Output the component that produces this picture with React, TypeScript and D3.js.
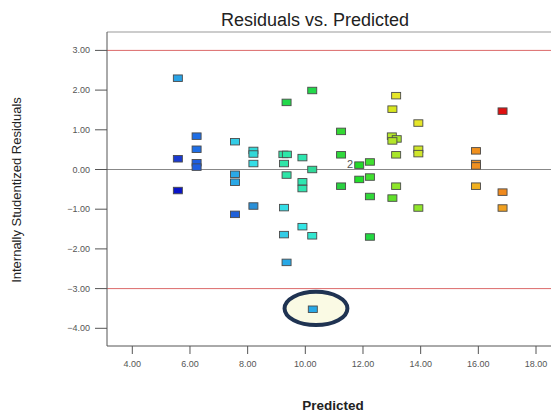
import React from "react";
import * as d3 from "d3";

const predicted = [
  5.58, 9.35, 6.23, 7.56, 6.23, 8.2, 8.2, 5.58, 6.23, 6.23,
  9.24, 9.36, 8.2, 9.26, 7.56, 7.56, 9.35, 5.58, 8.2, 9.26,
  7.56, 9.26, 9.35, 10.24, 13.15, 13.02, 13.92, 11.24, 13.0, 13.17,
  13.02, 13.92, 13.92, 9.9, 11.24, 13.15, 12.24, 11.87, 10.24, 9.9,
  9.9, 12.24, 11.87, 11.24, 13.15, 12.24, 13.02, 13.92, 9.9, 10.24,
  12.24, 15.92, 15.92, 15.92, 15.92, 16.84, 16.84, 16.84, 10.26,
];
const residuals = [
  2.3, 1.69, 0.84, 0.7, 0.51, 0.48, 0.39, 0.27, 0.17, 0.06,
  0.38, 0.38, 0.15, 0.15, -0.12, -0.32, -0.14, -0.53, -0.92, -0.96,
  -1.13, -1.64, -2.34, 1.99, 1.86, 1.52, 1.17, 0.96, 0.84, 0.77,
  0.72, 0.51, 0.4, 0.3, 0.37, 0.37, 0.19, 0.11, 0.0, -0.31,
  -0.48, -0.19, -0.25, -0.42, -0.42, -0.68, -0.72, -0.97, -1.44, -1.67,
  -1.7, 0.47, 0.15, 0.09, -0.42, 1.47, -0.57, -0.97, -3.52,
];
const pointColors = [
  "#29a3e6", "#22d84a", "#1e6ee6", "#33cce6", "#1e6ee6", "#33d8d8", "#33d8d8", "#1a3ad0", "#1e5ee0", "#1e5ee0",
  "#2ee6a8", "#2ee6a8", "#33dde6", "#2ee6a8", "#2aa8e6", "#2aa8e6", "#2ee6a8", "#0a14c8", "#2a90d8", "#33dde6",
  "#2060d8", "#33cce6", "#28a8e6", "#22d84a", "#e6e628", "#d8e61e", "#e6e628", "#34d834", "#b4e62a", "#a8e62a",
  "#b4e62a", "#d0e62a", "#d0e62a", "#2ee6b0", "#30d83c", "#a8e62a", "#40e030", "#22d82a", "#2ed898", "#2ee6b0",
  "#2ee6b0", "#40e030", "#22e02a", "#2ad040", "#8ee62a", "#30d838", "#60e02a", "#90e62a", "#33e6e6", "#33e6d0",
  "#22d840", "#f0901e", "#f09020", "#f09020", "#f0b020", "#e01010", "#f08a1e", "#f0a020", "#28a8e6",
];
const xTicks = [4, 6, 8, 10, 12, 14, 16, 18];
const yTicks = [3, 2, 1, 0, -1, -2, -3, -4];
const limitLines = [3, -3];
const countLabel = { x: 11.87, y: 0.11, text: "2" };
const highlight = { x: 10.37, y: -3.5, rx: 1.09, ry: 0.42 };

export default function App() {
  const W = 551, H = 412;
  const left = 107, right = 552, top = 32, bottom = 346;
  const x = d3.scaleLinear().domain([4, 18]).range([132.3, 536]);
  const y = d3.scaleLinear().domain([-4, 3]).range([328.3, 50.4]);
  const fmt = d3.format(".2f");
  const font = "Arial, 'Liberation Sans', sans-serif";
  const sw = 9, sh = 6.5;
  return (
    <svg width={W} height={H} style={{ position: "absolute", left: 0, top: 0 }} fontFamily={font}>
      <rect x={0} y={0} width={W} height={H} fill="#fff" />
      <text x={315} y={26} textAnchor="middle" fontSize={18} fill="#222">Residuals vs. Predicted</text>
      <line x1={left} x2={right} y1={top} y2={top} stroke="#999" />
      {limitLines.map((v) => (
        <line key={v} x1={left} x2={right} y1={y(v)} y2={y(v)} stroke="#dc6a6a" strokeWidth={1} />
      ))}
      <line x1={left} x2={right} y1={y(0)} y2={y(0)} stroke="#888" strokeWidth={1.2} />
      <line x1={left} x2={left} y1={top} y2={bottom} stroke="#555" />
      <line x1={left} x2={right} y1={bottom} y2={bottom} stroke="#555" />
      {yTicks.map((t) => (
        <g key={t}>
          <line x1={95} x2={left} y1={y(t)} y2={y(t)} stroke="#555" />
          <text x={90} y={y(t) + 3} textAnchor="end" fontSize={9} fill="#555">{fmt(t)}</text>
        </g>
      ))}
      {xTicks.map((t) => (
        <g key={t}>
          <line x1={x(t)} x2={x(t)} y1={bottom} y2={bottom + 8} stroke="#555" />
          <text x={x(t)} y={367} textAnchor="middle" fontSize={9} fill="#555">{fmt(t)}</text>
        </g>
      ))}
      <text transform={`translate(21,190) rotate(-90)`} textAnchor="middle" fontSize={13} fill="#222">
        Internally Studentized Residuals
      </text>
      <text x={333} y={410} textAnchor="middle" fontSize={13.5} fontWeight="bold" fill="#222">Predicted</text>
      <ellipse
        cx={x(highlight.x)}
        cy={y(highlight.y)}
        rx={x(highlight.x + highlight.rx) - x(highlight.x)}
        ry={y(highlight.y - highlight.ry) - y(highlight.y)}
        fill="#fafae4"
        stroke="#1f3352"
        strokeWidth={4}
      />
      {predicted.map((p, i) => (
        <rect
          key={i}
          x={x(p) - sw / 2}
          y={y(residuals[i]) - sh / 2}
          width={sw}
          height={sh}
          fill={pointColors[i]}
          stroke="#4a4a4a"
          strokeWidth={0.9}
        />
      ))}
      <text x={x(countLabel.x) - 6} y={y(countLabel.y) + 3} textAnchor="end" fontSize={11} fill="#555">
        {countLabel.text}
      </text>
    </svg>
  );
}
